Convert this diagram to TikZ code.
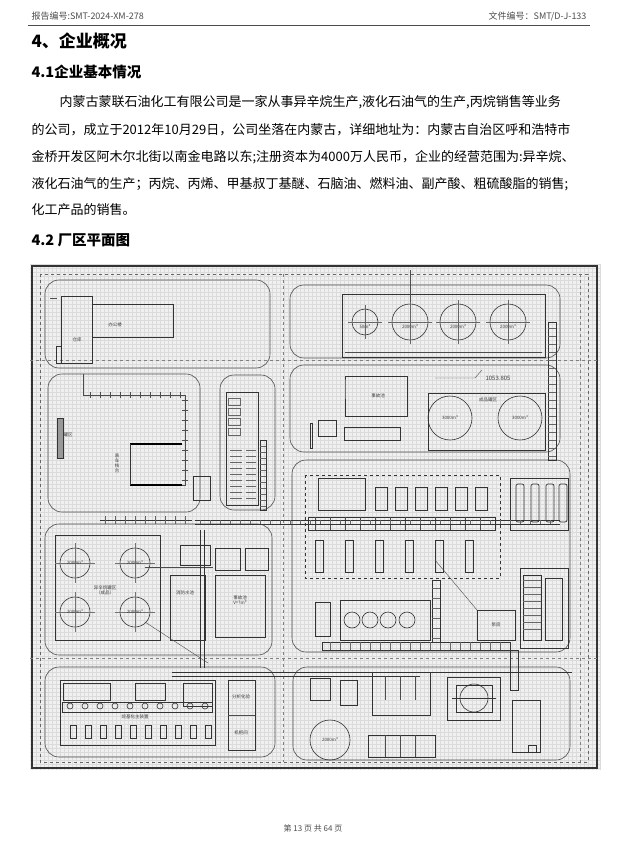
\documentclass[tikz,border=0pt]{standalone}
\usepackage{fontspec}
\setmainfont{Liberation Serif}
\newfontfamily\cjk{Noto Sans CJK SC}
\tikzset{
  road/.style={draw=black!70, line width=0.6pt, rounded corners=14pt},
  bldg/.style={draw=black!80, line width=0.7pt},
  tank/.style={draw=black!80, line width=0.6pt},
  lbl/.style={font=\cjk\fontsize{4.5}{5}\selectfont, text=black!75},
  body/.style={anchor=west, font=\cjk\fontsize{13}{15}\selectfont}
}
\begin{document}
\begin{tikzpicture}[x=1pt,y=-1pt]
\useasboundingbox (0,0) rectangle (626,866);
\fill[white] (0,0) rectangle (626,866);

% Headers
\node[anchor=west, font=\cjk\fontsize{9}{10}\selectfont, text=black!70] (rep) at (28,16) {报告编号:SMT-2024-XM-278};
\node[anchor=east, font=\cjk\fontsize{9}{10}\selectfont, text=black!70] (doc) at (590,16) {文件编号：SMT/D-J-133};
\draw[line width=0.8pt, black!70] (28,25) -- (590,25);
\node[anchor=west, font=\cjk\bfseries\fontsize{17}{19}\selectfont] (h4) at (28,41) {4、企业概况};
\node[anchor=west, font=\cjk\bfseries\fontsize{14.5}{16}\selectfont] (h41) at (28,72) {4.1企业基本情况};

% Text
\node[body] (p1) at (56,102) {内蒙古蒙联石油化工有限公司是一家从事异辛烷生产,液化石油气的生产,丙烷销售等业务};
\node[body] (p2) at (28,130) {的公司，成立于2012年10月29日，公司坐落在内蒙古，详细地址为：内蒙古自治区呼和浩特市};
\node[body] (p3) at (28,157) {金桥开发区阿木尔北街以南金电路以东;注册资本为4000万人民币，企业的经营范围为:异辛烷、};
\node[body] (p4) at (28,184) {液化石油气的生产；丙烷、丙烯、甲基叔丁基醚、石脑油、燃料油、副产酸、粗硫酸脂的销售;};
\node[body] (p5) at (28,210) {化工产品的销售。};
\node[anchor=west, font=\cjk\bfseries\fontsize{14.5}{16}\selectfont] (h42) at (28,240) {4.2 厂区平面图};

% Plan background
\fill[black!6] (30,264) rectangle (600,770);
\draw[black!14, step=4pt] (30,264) grid (600,770);
\draw[line width=1.2pt, black!80] (32,266) rectangle (597,768);
\draw[dashed, black!60] (40,274) rectangle (588,762);
\draw[dashed, black!50] (30,360) -- (597,360);
\draw[dashed, black!50] (30,658) -- (597,658);
\draw[dashed, black!50] (283,274) -- (283,762);
\draw[dashed, black!50] (580,274) -- (580,762);

% Road blocks
\draw[road] (45,280) rectangle (270,368);
\draw[road] (48,374) rectangle (200,512);
\draw[road] (220,375) rectangle (275,510);
\draw[road] (290,285) rectangle (560,358);
\draw[road] (290,365) rectangle (560,452);
\draw[road] (292,460) rectangle (570,652);
\draw[road] (45,524) rectangle (272,655);
\draw[road] (45,667) rectangle (275,757);
\draw[road] (293,667) rectangle (570,760);

% Top-left buildings
\draw[bldg] (61,296) rectangle (92,363);
\draw[bldg] (92,304) rectangle (173,337);
\draw[bldg] (56,346) rectangle (61,363);
\node[lbl] (wh) at (77,340) {仓库};
\node[lbl] (off) at (115,325) {办公楼};
\draw[line width=1pt, black!70] (50,298) -- (57,298);

% Loading rack
\draw[line width=0.8pt, black!70] (83,374) -- (83,395) -- (185,395) -- (185,485) -- (130,485);
\draw[line width=1.2pt] (130,444) -- (182,444);
\draw[line width=1.2pt] (130,485) -- (182,485);
\draw[bldg] (130,444) -- (130,485);
\foreach \y in {400,410,...,480} \draw[black!70] (182,\y) -- (188,\y);
\foreach \x in {90,100,...,180} \draw[black!70] (\x,392) -- (\x,398);
\node[lbl, align=center] (rack) at (117,463) {装\\车\\栈\\台};
\draw[bldg, fill=black!40] (57,418) rectangle (63,458);
\node[lbl] (tk) at (68,435) {罐区};
\draw[bldg] (193,476) rectangle (210,500);

% Control column
\draw[bldg] (226,392) rectangle (258,505);
\foreach \y in {398,408,...,428} \draw[black!60] (228,\y) rectangle (240,\y+7);
\foreach \y in {450,456,...,498} {\draw[black!60] (230,\y) -- (242,\y); \draw[black!60] (246,\y) -- (256,\y);}
\draw[bldg] (260,440) rectangle (266,510);
\foreach \y in {446,452,...,506} \draw[black!60] (260,\y) -- (266,\y);

% Top-right tank farm
\draw[bldg] (342,294) rectangle (545,357);
\draw[black!70] (345,352) -- (542,352);
\foreach \x/\r/\t in {365/13/50m³,410/18/2000m³,458/18/2000m³,508/18/2000m³} {
  \draw[tank] (\x,322) circle (\r);
  \draw[black!60] (\x-\r-4,322) -- (\x+\r+4,322);
  \draw[black!60] (\x,322-\r-4) -- (\x,322+\r+4);
  \node[lbl] at (\x,327) {\t};
}
\draw[black!70] (410,270) -- (410,302);
\draw[bldg] (548,322) rectangle (556,460);
\foreach \y in {328,336,...,456} \draw[black!60] (548,\y) -- (556,\y);

% Middle-right
\draw[bldg] (345,376) -- (407,376) -- (407,416) -- (345,416) -- (345,382) -- cycle;
\node[lbl] (acc) at (378,396) {事故池};
\draw[bldg] (428,393) rectangle (545,450);
\foreach \x in {450,520} {\draw[tank] (\x,418) circle (22); \node[lbl] at (\x,418) {3000m³};}
\node[lbl] (tf2) at (488,400) {成品罐区};
\draw[black!70] (435,378) -- (475,378) -- (482,370);
\node[lbl, font=\cjk\fontsize{6}{7}\selectfont] (elev) at (498,378) {1053.805};
\draw[bldg] (318,420) rectangle (336,436);
\draw[bldg] (310,423) rectangle (312,448);
\draw[bldg] (344,427) rectangle (400,440);

% Process area
\draw[dashed, bldg] (305,475) rectangle (500,578);
\draw[bldg] (318,478) rectangle (365,510);
\foreach \x in {375,395,...,485} \draw[bldg] (\x,487) rectangle (\x+12,510);
\draw[bldg] (308,517) rectangle (495,530);
\foreach \x in {315,330,...,490} \draw[black!70] (\x,517) -- (\x,530);
\foreach \x in {315,345,...,465} \draw[bldg] (\x,540) rectangle (\x+8,572);
\draw[bldg] (510,478) rectangle (568,530);
\foreach \x in {520,535,550,563} \draw[bldg, rounded corners=2pt] (\x-4,484) rectangle (\x+4,522);
\draw[bldg] (520,568) rectangle (568,648);
\draw[bldg] (523,575) rectangle (541,640);
\foreach \y in {580,587,...,635} \draw[black!60] (523,\y) -- (541,\y);
\draw[bldg] (545,578) rectangle (562,640);
\draw[bldg] (340,600) rectangle (430,640);
\foreach \x in {352,370,388,407} \draw[tank] (\x,620) circle (8);
\draw[bldg] (315,602) rectangle (330,636);
\draw[bldg] (477,610) rectangle (515,640);
\node[lbl] (pump) at (496,625) {泵房};
\draw[black!70] (435,560) -- (477,610);
\draw[bldg] (322,642) rectangle (510,650);
\foreach \x in {330,340,...,505} \draw[black!60] (\x,642) -- (\x,650);
\draw[bldg] (432,580) rectangle (440,642);
\foreach \y in {588,598,...,638} \draw[black!60] (432,\y) -- (440,\y);

% Bottom-left tank farm
\draw[bldg] (55,535) rectangle (160,640);
\foreach \x/\y in {75/563,135/563,75/612,135/612} {
  \draw[tank] (\x,\y) circle (15);
  \draw[black!55] (\x-20,\y) -- (\x+20,\y);
  \draw[black!55] (\x,\y-20) -- (\x,\y+20);
  \node[lbl] at (\x,\y) {2000m³};
}
\node[lbl, align=center] (tf1) at (105,590) {异辛烷罐区\\（成品）};
\draw[bldg] (170,575) rectangle (205,640);
\node[lbl] (wr) at (185,593) {消防水池};
\draw[bldg] (215,575) rectangle (265,637);
\node[lbl, align=center] (fw) at (240,600) {事故池\\V=?m³};
\draw[bldg] (180,545) rectangle (210,565);
\draw[bldg] (215,548) rectangle (240,570);
\draw[bldg] (245,548) rectangle (268,570);
\draw[black!70] (145,567) -- (213,567);
\draw[black!70] (145,622) -- (208,663);

% Pipe rack
\draw[bldg] (195,520) -- (560,520);
\draw[bldg] (195,524) -- (560,524);
\foreach \x in {200,210,...,555} \draw[black!60] (\x,520) -- (\x,524);
\draw[bldg] (200,530) -- (200,668);
\draw[bldg] (204,530) -- (204,668);
\draw[bldg] (100,520) -- (192,520);
\foreach \x in {105,115,...,190} \draw[black!60] (\x,516) -- (\x,524);
\draw[bldg] (172,672) -- (572,672);
\draw[bldg] (172,676) -- (420,676);

% Bottom-left units
\draw[bldg] (60,680) rectangle (215,745);
\draw[bldg] (63,683) rectangle (110,700);
\draw[bldg] (135,683) rectangle (165,700);
\foreach \x in {65,80,...,200} \draw[tank] (\x+5,706) circle (3);
\draw[bldg] (62,702) rectangle (212,712);
\foreach \x in {70,85,...,210} \draw[bldg] (\x,725) rectangle (\x+6,738);
\node[lbl] (alk) at (135,717) {烷基化主装置};
\draw[bldg] (228,680) rectangle (255,750);
\draw[black!70] (228,715) -- (255,715);
\node[lbl] (an) at (241,697) {分析化验};
\node[lbl] (cab) at (241,733) {机柜间};
\draw[bldg] (183,683) rectangle (212,706);

% Bottom-middle units
\draw[bldg] (310,678) rectangle (330,700);
\draw[tank] (330,740) circle (20);
\node[lbl, align=center] (st) at (330,740) {2000m³};
\draw[bldg] (340,680) rectangle (357,705);
\draw[bldg] (372,672) rectangle (430,715);
\foreach \x in {385,400,415} \draw[black!70] (\x,676) -- (\x,700);
\draw[bldg] (368,735) rectangle (435,757);
\foreach \x in {385,400,415} \draw[black!70] (\x,735) -- (\x,757);
\draw[bldg] (447,677) rectangle (500,720);
\draw[bldg] (456,685) rectangle (492,712);
\draw[tank] (474,698) circle (14);
\draw[black!80] (452,698) -- (496,698);
\draw[bldg] (512,700) rectangle (540,752);
\draw[bldg] (528,745) rectangle (536,752);
\draw[bldg] (510,650) rectangle (518,690);

% Footer
\node[font=\cjk\fontsize{8}{9}\selectfont, text=black!70] (foot) at (313,828) {第 13 页 共 64 页};
\end{tikzpicture}
\end{document}
